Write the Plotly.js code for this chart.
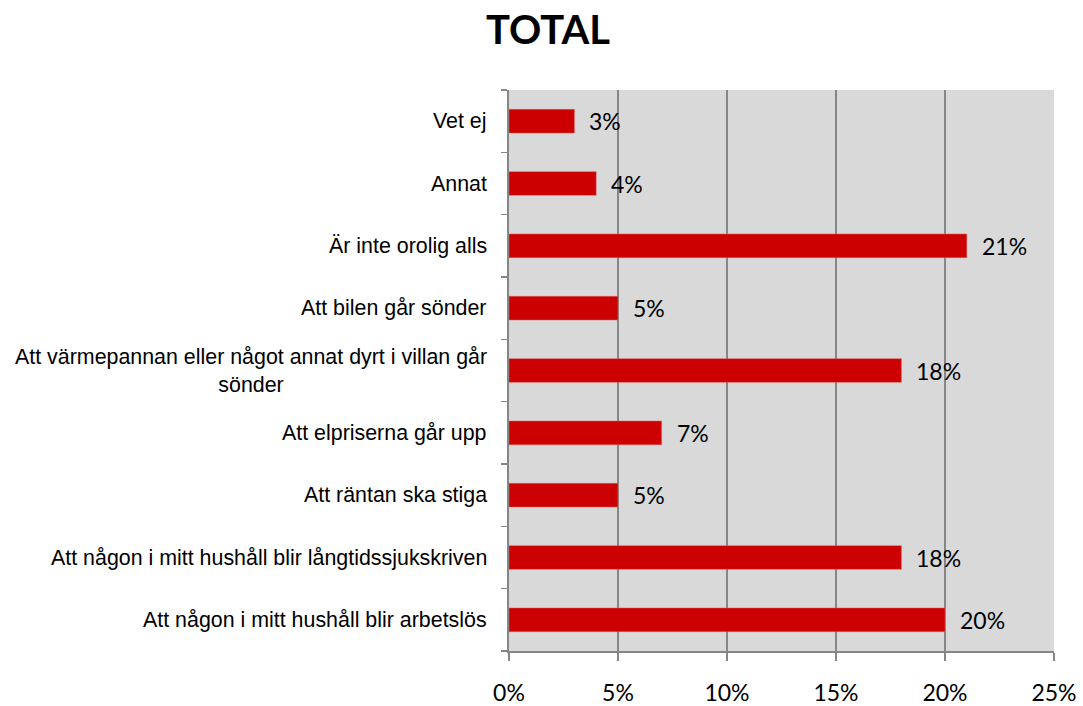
<!DOCTYPE html>
<html>
<head>
<meta charset="utf-8">
<script src="https://cdn.plot.ly/plotly-3.0.1.min.js"></script>
<style>html,body{margin:0;padding:0;background:#fff;}#chart{width:1083px;height:706px;}</style>
</head>
<body>
<div id="chart"></div>
<script>
const categories = [
  "Att någon i mitt hushåll blir arbetslös",
  "Att någon i mitt hushåll blir långtidssjukskriven",
  "Att räntan ska stiga",
  "Att elpriserna går upp",
  "Att värmepannan eller något annat dyrt i villan går<br>sönder",
  "Att bilen går sönder",
  "Är inte orolig alls",
  "Annat",
  "Vet ej"
];
const values = [20, 18, 5, 7, 18, 5, 21, 4, 3];
const tickVals = [0, 5, 10, 15, 20, 25];
const tickText = ["0%", "5%", "10%", "15%", "20%", "25%"];

const labelFont = {family: "Liberation Sans, Arial, sans-serif", size: 21.4, color: "#000"};
const valueFont = {family: "Lato, Carlito, sans-serif", size: 23, color: "#000"};

const annotations = [];
categories.forEach((c, i) => {
  annotations.push({
    xref: "paper", yref: "y", x: 0, y: i, xanchor: "right", yanchor: "middle",
    xshift: -20, text: c, showarrow: false, align: "center", font: labelFont
  });
  annotations.push({
    xref: "x", yref: "y", x: values[i], y: i, xanchor: "left", yanchor: "middle",
    xshift: 13, text: values[i] + "%", showarrow: false, font: valueFont
  });
});

const trace = {
  type: "bar", orientation: "h",
  y: categories.map((c, i) => i), x: values,
  width: 0.38,
  marker: {color: "#cc0000", line: {color: "#e06060", width: 0.5}},
  hoverinfo: "skip"
};

const layout = {
  width: 1083, height: 706,
  margin: {l: 509, r: 29, t: 90, b: 55},
  paper_bgcolor: "#ffffff", plot_bgcolor: "#d9d9d9",
  showlegend: false,
  title: {text: "<b>TOTAL</b>", x: 0.506, xanchor: "center", y: 0.957, yanchor: "middle",
          font: {family: "Lato, Carlito, sans-serif", size: 40, color: "#000"}},
  xaxis: {
    range: [0, 25], tickvals: tickVals, ticktext: tickText,
    showgrid: true, gridcolor: "#868686", gridwidth: 1.5,
    showline: true, linecolor: "#868686", linewidth: 2,
    ticks: "outside", ticklen: 8, tickcolor: "#868686", tickwidth: 1.5,
    ticklabelstandoff: 12,
    zeroline: false, fixedrange: true,
    tickfont: valueFont
  },
  yaxis: {
    range: [-0.5, 8.5], tickvals: [-0.5, 0.5, 1.5, 2.5, 3.5, 4.5, 5.5, 6.5, 7.5, 8.5],
    showticklabels: false,
    showgrid: false, showline: true, linecolor: "#868686", linewidth: 2,
    ticks: "outside", ticklen: 6, tickcolor: "#868686", tickwidth: 1.5,
    zeroline: false, fixedrange: true
  },
  annotations: annotations
};

Plotly.newPlot("chart", [trace], layout, {displayModeBar: false, staticPlot: true});
</script>
</body>
</html>
